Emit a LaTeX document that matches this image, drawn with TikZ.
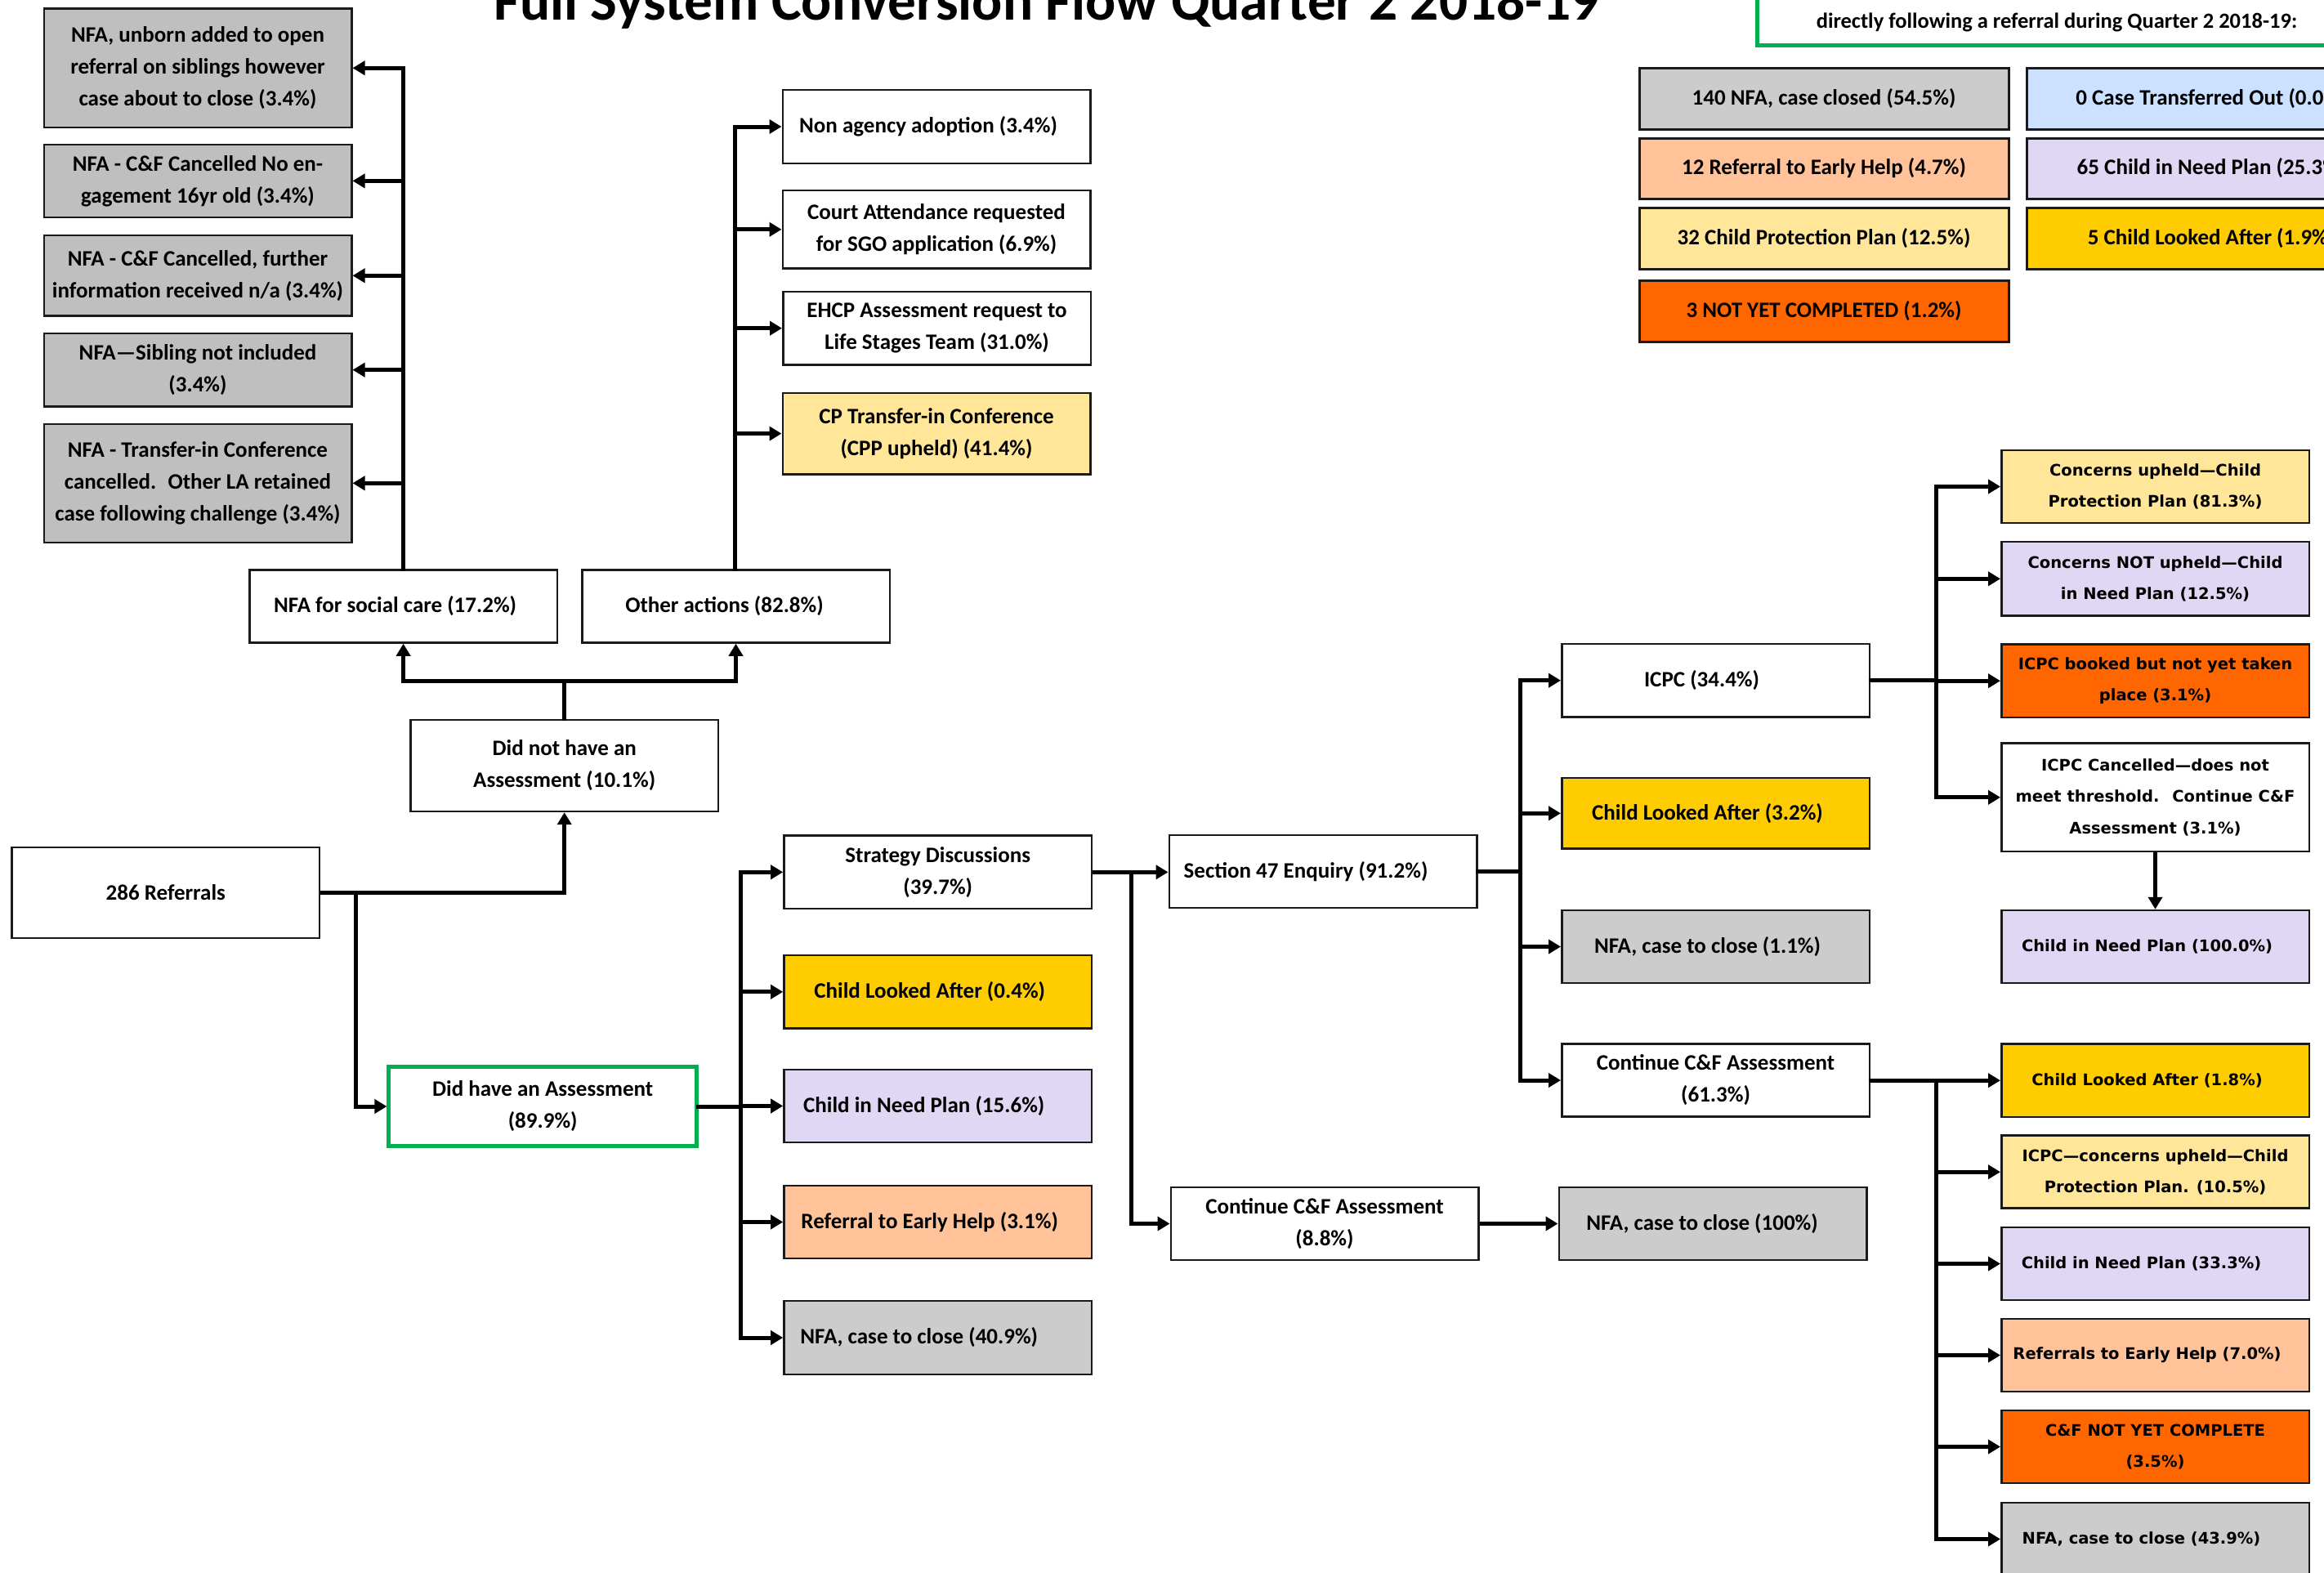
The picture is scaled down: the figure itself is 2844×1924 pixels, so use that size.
\documentclass[tikz,border=0pt]{standalone}
\usepackage{fontspec}
\usetikzlibrary{arrows.meta}
\newfontfamily\calfont{Carlito}
\newfontfamily\verfont{DejaVu Sans}
\newcommand\calt{\calfont\bfseries\fontsize{27}{39}\selectfont}
\newcommand\verd{\verfont\bfseries\fontsize{19.5}{38.5}\selectfont}
\newcommand\rpad[1]{\hspace*{#1pt}}
\definecolor{grayL}{HTML}{BFBFBF}
\definecolor{grayM}{HTML}{CCCCCC}
\definecolor{lyel}{HTML}{FFE699}
\definecolor{gold}{HTML}{FFCC00}
\definecolor{lav}{HTML}{E0D7F4}
\definecolor{peach}{HTML}{FFC299}
\definecolor{orng}{HTML}{FF6600}
\definecolor{lblue}{HTML}{CCE0FF}
\definecolor{grn}{HTML}{00B050}
\definecolor{boxline}{HTML}{1A1A1A}
\begin{document}
\begin{tikzpicture}[x=1pt,y=-1pt,
  box/.style={draw=boxline, line width=2.5pt, minimum width=376.5pt, inner sep=0pt, align=center, font=\calt, text=black},
  vbox/.style={box, font=\verd},
  lbox/.style={box, minimum width=452pt, line width=3pt},
  conn/.style={line width=5pt, -{Triangle[length=15pt,width=17pt]}},
  bus/.style={line width=5pt, line cap=rect}]
\useasboundingbox (0,0) rectangle (2844,1924);
\clip (0,0) rectangle (2844,1924);
\fill[white] (0,0) rectangle (2844,1924);

% title and header
\node[anchor=base west, inner sep=0pt, font=\calfont\bfseries\fontsize{69.3}{80}\selectfont] (title) at (604,25) {Full System Conversion Flow Quarter 2 2018-19};
\draw[grn, line width=5pt] (2150,-20) -- (2150,56) -- (2900,56);
\node[anchor=base, inner sep=0pt, font=\calfont\bfseries\fontsize{26.5}{30}\selectfont] (hdr) at (2517,35) {directly following a referral during Quarter 2 2018-19:};

% legend
\node[lbox, fill=grayM, minimum height=74pt] (L1) at (2232,121) {140 NFA, case closed (54.5\%)};
\node[lbox, fill=lblue, minimum height=74pt] (L2) at (2706,121) {0 Case Transferred Out (0.0\%)};
\node[lbox, fill=peach, minimum height=74pt] (L3) at (2232,206) {12 Referral to Early Help (4.7\%)};
\node[lbox, fill=lav, minimum height=74pt] (L4) at (2706,206) {65 Child in Need Plan (25.3\%)};
\node[lbox, fill=lyel, minimum height=75pt] (L5) at (2232,291.5) {32 Child Protection Plan (12.5\%)};
\node[lbox, fill=gold, minimum height=75pt] (L6) at (2706,291.5) {5 Child Looked After (1.9\%)};
\node[lbox, fill=orng, minimum height=75pt] (L7) at (2232,380.5) {3 NOT YET COMPLETED (1.2\%)};

% left gray column
\node[box, fill=grayL, minimum height=145pt] (g1) at (242,83.25) {NFA, unborn added to open\\referral on siblings however\\case about to close (3.4\%)};
\node[box, fill=grayL, minimum height=89.2pt] (g2) at (242,221.4) {NFA - C\&F Cancelled No en-\\gagement 16yr old (3.4\%)};
\node[box, fill=grayL, minimum height=98.6pt] (g3) at (242,337.3) {NFA - C\&F Cancelled, further\\information received n/a (3.4\%)};
\node[box, fill=grayL, minimum height=89.3pt] (g4) at (242,452.7) {NFA—Sibling not included\\(3.4\%)};
\node[box, fill=grayL, minimum height=145pt] (g5) at (242,591.3) {NFA - Transfer-in Conference\\cancelled.~ Other LA retained\\case following challenge (3.4\%)};

% other actions column
\node[box, minimum height=90pt] (o1) at (1146,155) {Non agency adoption (3.4\%)\rpad{20}};
\node[box, minimum height=95.6pt] (o2) at (1146,280.8) {Court Attendance requested\\for SGO application (6.9\%)};
\node[box, minimum height=89.4pt] (o3) at (1146.5,401.7) {EHCP Assessment request to\\Life Stages Team (31.0\%)};
\node[box, fill=lyel, minimum height=99.6pt] (o4) at (1146,530.6) {CP Transfer-in Conference\\(CPP upheld) (41.4\%)};

% second level
\node[box, minimum height=89pt] (nfasc) at (493.6,742) {NFA for social care (17.2\%)\rpad{20}};
\node[box, minimum height=89pt] (other) at (900.5,742) {Other actions (82.8\%)\rpad{28}};
\node[box, minimum height=112pt] (noassess) at (690.7,936.9) {Did not have an\\Assessment (10.1\%)};
\node[box, minimum height=111pt] (ref) at (202.8,1092.5) {286 Referrals};
\node[box, draw=grn, line width=5pt, minimum height=97.7pt] (hasassess) at (664.2,1354) {Did have an Assessment\\(89.9\%)};

% assessment outcomes
\node[box, minimum height=89.4pt] (a1) at (1147.7,1067.3) {Strategy Discussions\\(39.7\%)};
\node[box, fill=gold, minimum height=89.5pt] (a2) at (1147.7,1213.8) {Child Looked After (0.4\%)\rpad{20}};
\node[box, fill=lav, minimum height=89pt] (a3) at (1147.7,1353.5) {Child in Need Plan (15.6\%)\rpad{34}};
\node[box, fill=peach, minimum height=89pt] (a4) at (1147.7,1495.5) {Referral to Early Help (3.1\%)\rpad{20}};
\node[box, fill=grayM, minimum height=90pt] (a5) at (1147.7,1637) {NFA, case to close (40.9\%)\rpad{46}};

% strategy outcomes
\node[box, minimum height=89pt] (sec47) at (1619,1066.5) {Section 47 Enquiry (91.2\%)\rpad{42}};
\node[box, minimum height=89pt] (cont88) at (1621,1497.5) {Continue C\&F Assessment\\(8.8\%)};
\node[box, fill=grayM, minimum height=89pt] (nfa100) at (2096,1497.5) {NFA, case to close (100\%)\rpad{26}};

% section 47 outcomes
\node[box, minimum height=89.4pt] (icpc) at (2099.5,832.7) {ICPC (34.4\%)\rpad{34}};
\node[box, fill=gold, minimum height=86.7pt] (cla32) at (2099.5,995.3) {Child Looked After (3.2\%)\rpad{20}};
\node[box, fill=grayM, minimum height=89pt] (nfa11) at (2099.5,1158.5) {NFA, case to close (1.1\%)\rpad{20}};
\node[box, minimum height=89pt] (cont613) at (2099.5,1322) {Continue C\&F Assessment\\(61.3\%)};

% ICPC outcomes
\node[vbox, fill=lyel, minimum height=89pt] (cu) at (2637.5,595.5) {Concerns upheld—Child\\Protection Plan (81.3\%)};
\node[vbox, fill=lav, minimum height=90.6pt] (cnu) at (2637.5,708.3) {Concerns NOT upheld—Child\\in Need Plan (12.5\%)};
\node[vbox, fill=orng, minimum height=89.5pt] (booked) at (2637.5,833.2) {ICPC booked but not yet taken\\place (3.1\%)};
\node[vbox, minimum height=132.4pt] (canc) at (2637.5,975.8) {ICPC Cancelled—does not\\meet threshold.~ Continue C\&F\\Assessment (3.1\%)};
\node[vbox, fill=lav, minimum height=89pt] (cin100) at (2637.5,1158.5) {Child in Need Plan (100.0\%)\rpad{20}};

% continue C&F outcomes
\node[vbox, fill=gold, minimum height=89.5pt] (r1) at (2637.5,1322.2) {Child Looked After (1.8\%)\rpad{20}};
\node[vbox, fill=lyel, minimum height=89pt] (r2) at (2637.5,1434.2) {ICPC—concerns upheld—Child\\Protection Plan. (10.5\%)};
\node[vbox, fill=lav, minimum height=89pt] (r3) at (2637.5,1546.5) {Child in Need Plan (33.3\%)\rpad{34}};
\node[vbox, fill=peach, minimum height=89pt] (r4) at (2637.5,1658.5) {Referrals to Early Help (7.0\%)\rpad{20}};
\node[vbox, fill=orng, minimum height=89pt] (r5) at (2637.5,1770.5) {C\&F NOT YET COMPLETE\\(3.5\%)};
\node[vbox, fill=grayM, minimum height=89pt] (r6) at (2637.5,1883.5) {NFA, case to close (43.9\%)\rpad{34}};

% connectors: referrals
\draw[conn] (ref.east) -| (noassess.south);
\draw[conn] ([xshift=43pt]ref.east) |- (hasassess.west);

% no assessment
\coordinate (j1) at (690.7,833);
\draw[bus] (noassess.north) -- (j1);
\draw[conn] (j1) -| (nfasc.south);
\draw[conn] (j1) -| (other.south);

% NFA bus
\draw[bus] (nfasc.north) -- (nfasc.north |- g1.east);
\foreach \n in {g1,g2,g3,g4,g5} \draw[conn] (nfasc.north |- \n.east) -- (\n.east);

% other bus
\coordinate (b1) at (899,0);
\draw[bus] (b1 |- other.north) -- (b1 |- o1.west);
\foreach \n in {o1,o2,o3,o4} \draw[conn] (b1 |- \n.west) -- (\n.west);

% has assessment bus
\coordinate (b2) at (906,0);
\draw[bus] (b2 |- a1.west) -- (b2 |- a5.west);
\draw[bus] (hasassess.east) -- (b2 |- hasassess.east);
\foreach \n in {a1,a2,a3,a4,a5} \draw[conn] (b2 |- \n.west) -- (\n.west);

% strategy
\draw[conn] (a1.east) -- (a1.east -| sec47.west);
\coordinate (b3) at (1384,0);
\draw[conn] (b3 |- a1.east) |- (cont88.west);
\draw[conn] (cont88.east) -- (nfa100.west);

% section 47 bus
\coordinate (b4) at (1860,0);
\draw[bus] (sec47.east) -- (b4 |- sec47.east);
\draw[bus] (b4 |- icpc.west) -- (b4 |- cont613.west);
\foreach \n in {icpc,cla32,nfa11,cont613} \draw[conn] (b4 |- \n.west) -- (\n.west);

% ICPC bus
\coordinate (b5) at (2369,0);
\draw[bus] (icpc.east) -- (b5 |- icpc.east);
\draw[bus] (b5 |- cu.west) -- (b5 |- canc.west);
\foreach \n in {cu,cnu,booked,canc} \draw[conn] (b5 |- \n.west) -- (\n.west);
\draw[conn] (canc.south) -- (cin100.north);

% continue C&F bus
\draw[bus] (cont613.east) -- (b5 |- cont613.east);
\draw[bus] (b5 |- r1.west) -- (b5 |- r6.west);
\foreach \n in {r1,r2,r3,r4,r5,r6} \draw[conn] (b5 |- \n.west) -- (\n.west);
\end{tikzpicture}
\end{document}
